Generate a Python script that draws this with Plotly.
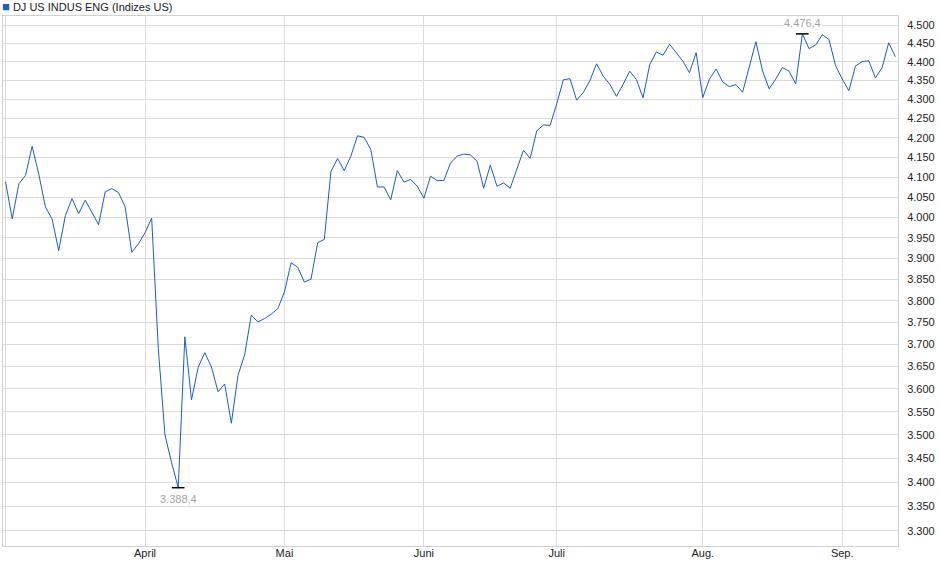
import math
import pandas as pd
import plotly.graph_objects as go

# trading days Mar 3 - Sep 12 2025, US market holidays taken out
holidays = ['2025-04-18', '2025-05-26', '2025-06-19', '2025-07-04', '2025-09-01']
days = pd.bdate_range('2025-03-03', '2025-09-12')
days = days[~days.isin(pd.to_datetime(holidays))]
dates = [d.strftime('%Y-%m-%d') for d in days]

# closing values, month by month
maerz = [4088, 3996, 4083, 4104, 4178, 4107, 4025, 3996, 3919, 4004, 4046,
         4009, 4042, 4011, 3982, 4063, 4071, 4061, 4026, 3915, 3935]
april = [3962, 3998, 3690, 3500, 3441, 3388.4, 3717, 3576, 3648, 3681, 3649,
         3594, 3611, 3525, 3630, 3676, 3767, 3751, 3759, 3769, 3782]
mai = [3821, 3890, 3879, 3844, 3851, 3938, 3946, 4114, 4147, 4116, 4153,
       4205, 4201, 4170, 4075, 4075, 4043, 4116, 4087, 4094, 4077]
juni = [4047, 4102, 4091, 4091, 4135, 4153, 4158, 4156, 4140, 4072, 4130,
        4077, 4085, 4072, 4120, 4168, 4147, 4218, 4233, 4232]
juli = [4288, 4352, 4355, 4298, 4318, 4350, 4395, 4362, 4340, 4308, 4340,
        4375, 4353, 4304, 4392, 4427, 4418, 4448, 4425, 4402, 4371, 4425]
august = [4305, 4354, 4381, 4346, 4334, 4339, 4319, 4385, 4455, 4376, 4328,
          4354, 4385, 4375, 4341, 4476.4, 4436, 4446, 4474, 4461, 4390]
september = [4354, 4323, 4389, 4401, 4403, 4357, 4384, 4452, 4414]

values = maerz + april + mai + juni + juli + august + september

month_starts = ['2025-03-03', '2025-04-01', '2025-05-01', '2025-06-02',
                '2025-07-01', '2025-08-01', '2025-09-02']
month_labels = ['', 'April', 'Mai', 'Juni', 'Juli', 'Aug.', 'Sep.']
y_ticks = list(range(3300, 4501, 50))

font = 'Liberation Sans, Arial, sans-serif'
blue = '#1b5cc5'


def de(v):
    # german number format: 3.388,4
    return f"{v:,.1f}".replace(',', '#').replace('.', ',').replace('#', '.')


i_min = values.index(min(values))
i_max = values.index(max(values))

fig = go.Figure()
fig.add_trace(go.Scatter(x=dates, y=values, mode='lines',
                         line=dict(color=blue, width=1)))
fig.add_trace(go.Scatter(x=[dates[i_min], dates[i_max]],
                         y=[values[i_min], values[i_max]], mode='markers',
                         marker=dict(symbol='line-ew', size=9,
                                     line=dict(color='black', width=1.5))))

fig.add_annotation(x=dates[i_min], y=math.log10(values[i_min]), text=de(values[i_min]),
                   showarrow=False, yshift=-11, bgcolor='white', borderpad=0,
                   font=dict(family=font, size=11, color='#a3a3a3'))
fig.add_annotation(x=dates[i_max], y=math.log10(values[i_max]), text=de(values[i_max]),
                   showarrow=False, yshift=11, bgcolor='white', borderpad=0,
                   font=dict(family=font, size=11, color='#a3a3a3'))
fig.add_annotation(xref='paper', yref='paper', x=0, y=1, xanchor='left', yanchor='middle',
                   text='<span style="color:%s;font-size:13px">■</span> DJ US INDUS ENG (Indizes US)' % blue,
                   showarrow=False, yshift=10, xshift=-2, borderpad=0,
                   font=dict(family=font, size=11, color='#222'))

fig.update_layout(
    width=940, height=579,
    margin=dict(l=3, r=42, t=16, b=33),
    plot_bgcolor='white', paper_bgcolor='white',
    showlegend=False, separators=',.',
    font=dict(family=font, size=11, color='#222'),
)
fig.update_xaxes(type='category', range=[-0.39, 134.4],
                 tickmode='array', tickvals=month_starts, ticktext=month_labels,
                 showgrid=True, gridcolor='#dcdcdc', gridwidth=1,
                 showline=True, linecolor='#d0d0d0', mirror=True,
                 ticks='', zeroline=False, ticklabelstandoff=-3)
fig.update_yaxes(type='log', side='right', range=[3.51446, 3.65569],
                 tickmode='array', tickvals=y_ticks, tickformat=',.0f',
                 showgrid=True, gridcolor='#dcdcdc', gridwidth=1,
                 showline=True, linecolor='#d0d0d0', mirror=True,
                 ticks='', zeroline=False, ticklabelstandoff=6)

# the page body has an 8px default margin; drop it so the chart sits at 0,0
fig.write_html('out.html', config={'displayModeBar': False},
               post_script="document.body.style.margin='0';document.body.style.overflow='hidden';")
